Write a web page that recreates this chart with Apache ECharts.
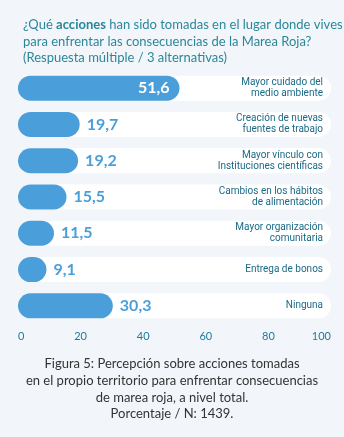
<!DOCTYPE html>
<html><head><meta charset="utf-8">
<script src="https://cdn.jsdelivr.net/npm/echarts@6/dist/echarts.min.js"></script>
<style>html,body{margin:0;padding:0;background:#f2f6fa;}#c{width:344px;height:437px;}</style>
</head><body><div id="c"></div>
<script>
const categories = [
  'Mayor cuidado del\nmedio ambiente',
  'Creación de nuevas\nfuentes de trabajo',
  'Mayor vínculo con\nInstituciones científicas',
  'Cambios en los hábitos\nde alimentación',
  'Mayor organización\ncomunitaria',
  'Entrega de bonos',
  'Ninguna'
];
const values = [51.6, 19.7, 19.2, 15.5, 11.5, 9.1, 30.3];
const tickValues = [0, 20, 40, 60, 80, 100];

const blue = '#4a9fda';
const maxV = Math.max.apply(null, values);
const barData = values.map(v => {
  const inside = v === maxV;
  return {
    value: v,
    label: {
      position: inside ? 'insideRight' : 'right',
      color: inside ? '#ffffff' : blue,
      distance: inside ? 10 : 7
    }
  };
});

const chart = echarts.init(document.getElementById('c'), null, {renderer: 'canvas'});
chart.setOption({
  backgroundColor: '#f2f6fa',
  animation: false,
  title: [{
    left: 18, top: 12,
    text: '¿Qué {b|acciones} han sido tomadas en el lugar donde vives\npara enfrentar las consecuencias de la Marea Roja?\n(Respuesta múltiple / 3 alternativas)',
    textStyle: {
      fontFamily: 'Lato', fontSize: 13, fontWeight: 'normal', color: '#2a8799', lineHeight: 16.5,
      rich: { b: { fontFamily: 'Lato', fontSize: 13, fontWeight: 'bold', color: '#2a8799', lineHeight: 16.5 } }
    }
  }],
  graphic: [{
    type: 'text', x: 172, y: 356, z: 10,
    style: {
      text: 'Figura 5: Percepción sobre acciones tomadas\nen el propio territorio para enfrentar consecuencias\nde marea roja, a nivel total.\nPorcentaje / N: 1439.',
      font: '13px Lato', fill: '#333333', lineHeight: 16.6, align: 'center', textAlign: 'center'
    }
  }],
  grid: { left: 18, right: 13, top: 70, height: 254, containLabel: false },
  xAxis: {
    type: 'value', min: 0, max: 100, interval: 20,
    splitLine: { show: false }, axisLine: { show: false }, axisTick: { show: false },
    axisLabel: {
      color: '#1f7a9a', fontFamily: 'Lato', fontSize: 11, margin: 7,
      alignMinLabel: 'left', alignMaxLabel: 'right',
      formatter: v => tickValues.indexOf(v) >= 0 ? String(v) : ''
    }
  },
  yAxis: {
    type: 'category', data: categories, inverse: true, position: 'right', z: 10,
    axisLine: { show: false }, axisTick: { show: false }, splitLine: { show: false },
    axisLabel: { inside: true, margin: 8, color: '#1a6a86', fontFamily: 'Roboto', fontSize: 10, lineHeight: 11, align: 'right' }
  },
  series: [{
    type: 'bar', data: barData, barWidth: 25,
    showBackground: true,
    backgroundStyle: { color: '#ffffff', borderRadius: 12.5 },
    itemStyle: { color: blue, borderRadius: 12.5 },
    label: {
      show: true, fontFamily: 'Lato', fontSize: 16, fontWeight: 'bold',
      formatter: p => p.value.toFixed(1).replace('.', ',')
    }
  }]
});
</script></body></html>
